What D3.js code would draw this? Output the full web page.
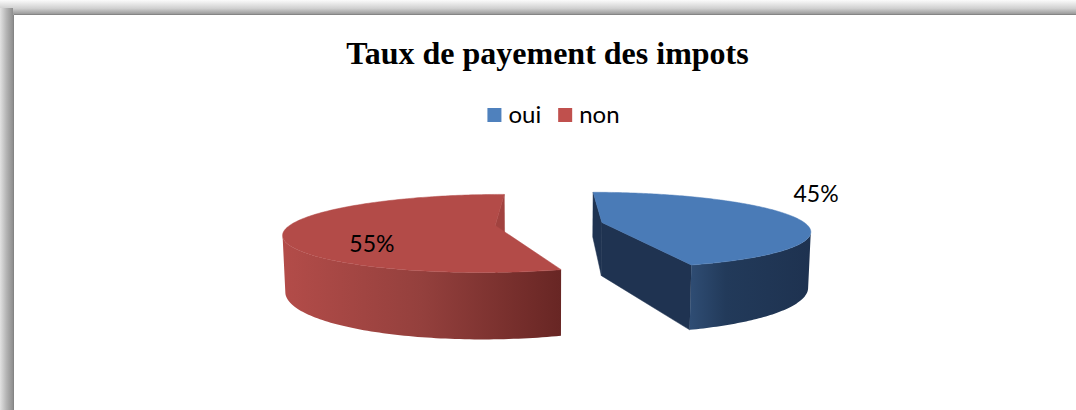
<!DOCTYPE html>
<html>
<head>
  <meta charset="UTF-8">
  <style>
    body { margin: 0; background: #fff; }
    svg { display: block; }
  </style>
  <script src="https://d3js.org/d3.v7.min.js"></script>
</head>
<body>
<script>
// data
const categories = ["oui", "non"];
const values = [45, 55];
const valueLabels = ["45%", "55%"];
const title = "Taux de payement des impots";

const W = 1076, H = 410;
const svg = d3.select("body").append("svg").attr("width", W).attr("height", H);
const defs = svg.append("defs");

// frame shading (chart border with soft shadow)
function grad(id, x2, y2, stops) {
  const g = defs.append("linearGradient").attr("id", id)
    .attr("x1", 0).attr("y1", 0).attr("x2", x2).attr("y2", y2);
  stops.forEach(s => g.append("stop").attr("offset", s[0]).attr("stop-color", s[1]));
  return g;
}
grad("topShade", 0, 1, [[0, "#fbfbfb"], [0.6, "#d0d0d0"], [1, "#9a9a9a"]]);
grad("leftShade", 1, 0, [[0, "#e2e2e2"], [0.5, "#b4b4b4"], [1, "#8e8e8e"]]);

svg.append("rect").attr("x", 0).attr("y", 0).attr("width", W).attr("height", 14).attr("fill", "url(#topShade)");
svg.append("rect").attr("x", 0).attr("y", 8).attr("width", 13).attr("height", H).attr("fill", "url(#leftShade)");
svg.append("path").attr("d", `M13.5,${H} V14.5 H${W}`).attr("fill", "none").attr("stroke", "#858585");

// title
svg.append("text")
  .attr("x", 547.5).attr("y", 64)
  .attr("text-anchor", "middle")
  .style("font-family", "'Liberation Serif', 'Times New Roman', serif")
  .style("font-weight", "bold").style("font-size", "32px")
  .text(title);

// legend
const legendColors = d3.scaleOrdinal().domain(categories).range(["#4f81bd", "#c0504d"]);
const legend = svg.append("g");
let lx = 0;
categories.forEach((c, i) => {
  const item = legend.append("g").attr("transform", `translate(${lx},0)`);
  item.append("rect").attr("x", 0).attr("y", 108).attr("width", 14).attr("height", 14).attr("fill", legendColors(c));
  const t = item.append("text").attr("x", 21).attr("y", 123)
    .style("font-family", "Lato, 'Open Sans', sans-serif").style("font-size", "24px").text(c);
  lx += 21 + t.node().getComputedTextLength() + 17;
});
const lw = lx - 17;
legend.attr("transform", `translate(${553.5 - lw / 2},0)`);

// 3D pie with perspective
const cam = { cx: 549, cy: 224, D: 1000, tilt: 10.4 * Math.PI / 180 };
const R = 204, depth = 55, explode = 54;
const sa = Math.sin(cam.tilt), ca = Math.cos(cam.tilt);
const C = [0, cam.D * sa, cam.D * ca];

function project(X, Y, Z) {
  const yu = Y * ca - Z * sa, zd = Y * sa + Z * ca, k = cam.D / (cam.D - zd);
  return [cam.cx + X * k, cam.cy - yu * k];
}

const arcs = d3.pie().sort(null).value(d => d)(values);

const topColor = ["#4a7bb7", "#b34b48"];
const sideColor = ["#1f3351", "#a1423f"];
const wallStops = [
  [[0, "#2f4d74"], [0.3, "#223a5a"], [1, "#1e3250"]],
  [[0, "#b34c49"], [0.5, "#94403d"], [1, "#682624"]]
];

const line = d3.line();
const N = 180;

const slices = arcs.map((a, i) => {
  const m = (a.startAngle + a.endAngle) / 2;
  const ox = explode * Math.sin(m), oz = -explode * Math.cos(m);
  const pt = (ang, r, Y) => project(ox + r * Math.sin(ang), Y, oz - r * Math.cos(ang));
  const world = (ang, r, Y) => [ox + r * Math.sin(ang), Y, oz - r * Math.cos(ang)];
  return { a, i, m, ox, oz, pt, world };
});

function facing(n, p) {
  return n[0] * (C[0] - p[0]) + n[1] * (C[1] - p[1]) + n[2] * (C[2] - p[2]) > 0;
}

// farther slice first
slices.sort((s, t) => s.oz - t.oz);

slices.forEach(s => {
  const { a, i, pt, world } = s;
  const g = svg.append("g");
  const a0 = a.startAngle, a1 = a.endAngle;

  // radial faces
  const faces = [
    { ang: a0, n: [-Math.cos(a0), 0, -Math.sin(a0)] },
    { ang: a1, n: [Math.cos(a1), 0, Math.sin(a1)] }
  ];
  faces.forEach(f => {
    if (!facing(f.n, world(f.ang, R / 2, -depth / 2))) return;
    const poly = [pt(0, 0, 0), pt(f.ang, R, 0), pt(f.ang, R, -depth), pt(0, 0, -depth)];
    g.append("path").attr("d", line(poly) + "Z").attr("fill", sideColor[i])
      .attr("stroke", sideColor[i]).attr("stroke-width", 0.5);
  });

  // outer wall, front-facing part only
  const angs = d3.range(N + 1).map(j => a0 + (a1 - a0) * j / N);
  const vis = angs.filter(ang => facing([Math.sin(ang), 0, -Math.cos(ang)], world(ang, R, -depth / 2)));
  if (vis.length > 1) {
    const topEdge = vis.map(ang => pt(ang, R, 0));
    const botEdge = vis.map(ang => pt(ang, R, -depth)).reverse();
    const poly = topEdge.concat(botEdge);
    const xs = poly.map(p => p[0]);
    const gid = "wall" + i;
    const lg = defs.append("linearGradient").attr("id", gid)
      .attr("gradientUnits", "userSpaceOnUse")
      .attr("x1", d3.min(xs)).attr("x2", d3.max(xs)).attr("y1", 0).attr("y2", 0);
    wallStops[i].forEach(st => lg.append("stop").attr("offset", st[0]).attr("stop-color", st[1]));
    g.append("path").attr("d", line(poly) + "Z").attr("fill", `url(#${gid})`);
  }

  // top face
  const topPoly = [pt(0, 0, 0)].concat(angs.map(ang => pt(ang, R, 0)));
  g.append("path").attr("d", line(topPoly) + "Z").attr("fill", topColor[i])
    .attr("stroke", topColor[i]).attr("stroke-width", 0.5);
});

// data labels
const labelFont = "Lato, 'Open Sans', sans-serif";
slices.forEach(s => {
  let p;
  if (s.a.data / d3.sum(values) < 0.5) {
    p = s.pt(s.m, R, 0);
    p = [p[0] + 22, p[1] - 24];
  } else {
    p = s.pt(s.m, R * 0.6, 0);
    p = [p[0] + 2, p[1] + 14];
  }
  svg.append("text").attr("x", p[0]).attr("y", p[1])
    .attr("text-anchor", "middle").attr("dominant-baseline", "central")
    .style("font-family", labelFont).style("font-size", "23px").attr("fill", "#000")
    .text(valueLabels[s.i]);
});
</script>
</body>
</html>
